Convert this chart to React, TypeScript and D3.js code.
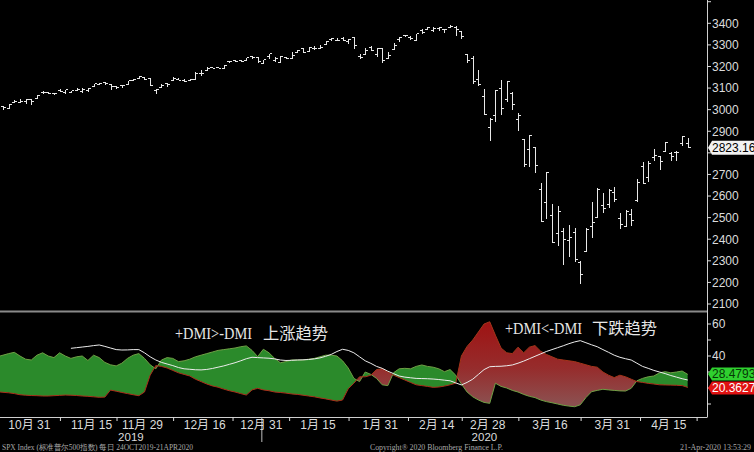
import React, { useEffect } from 'react';
import * as d3 from 'd3';

const W = 754;
const H = 452;

const dates = [
  '2019-10-24','2019-10-25','2019-10-28','2019-10-29','2019-10-30','2019-10-31',
  '2019-11-01','2019-11-04','2019-11-05','2019-11-06','2019-11-07','2019-11-08','2019-11-11','2019-11-12','2019-11-13','2019-11-14','2019-11-15','2019-11-18','2019-11-19','2019-11-20','2019-11-21','2019-11-22','2019-11-25','2019-11-26','2019-11-27','2019-11-29',
  '2019-12-02','2019-12-03','2019-12-04','2019-12-05','2019-12-06','2019-12-09','2019-12-10','2019-12-11','2019-12-12','2019-12-13','2019-12-16','2019-12-17','2019-12-18','2019-12-19','2019-12-20','2019-12-23','2019-12-24','2019-12-26','2019-12-27','2019-12-30','2019-12-31',
  '2020-01-02','2020-01-03','2020-01-06','2020-01-07','2020-01-08','2020-01-09','2020-01-10','2020-01-13','2020-01-14','2020-01-15','2020-01-16','2020-01-17','2020-01-21','2020-01-22','2020-01-23','2020-01-24','2020-01-27','2020-01-28','2020-01-29','2020-01-30','2020-01-31',
  '2020-02-03','2020-02-04','2020-02-05','2020-02-06','2020-02-07','2020-02-10','2020-02-11','2020-02-12','2020-02-13','2020-02-14','2020-02-18','2020-02-19','2020-02-20','2020-02-21','2020-02-24','2020-02-25','2020-02-26','2020-02-27','2020-02-28',
  '2020-03-02','2020-03-03','2020-03-04','2020-03-05','2020-03-06','2020-03-09','2020-03-10','2020-03-11','2020-03-12','2020-03-13','2020-03-16','2020-03-17','2020-03-18','2020-03-19','2020-03-20','2020-03-23','2020-03-24','2020-03-25','2020-03-26','2020-03-27','2020-03-30','2020-03-31',
  '2020-04-01','2020-04-02','2020-04-03','2020-04-06','2020-04-07','2020-04-08','2020-04-09','2020-04-13','2020-04-14','2020-04-15','2020-04-16','2020-04-17','2020-04-20',
];

const open = [
  3014.78,3003.32,3032.12,3035.39,3039.74,3046.90,
  3050.72,3078.96,3080.80,3075.10,3087.02,3081.25,3080.33,3089.28,3084.18,3090.75,3107.92,3117.91,3127.45,3114.66,3108.49,3111.41,3117.44,3134.85,3145.49,3147.18,
  3143.85,3087.41,3103.50,3119.21,3134.62,3141.86,3135.36,3135.75,3141.23,3166.65,3183.63,3195.40,3195.21,3192.32,3223.33,3226.05,3225.45,3227.20,3247.23,3240.09,3215.18,
  3244.67,3226.36,3217.55,3241.86,3238.59,3266.03,3281.81,3271.13,3285.35,3282.27,3302.97,3323.66,3321.03,3330.02,3315.77,3333.10,3247.16,3255.35,3289.46,3256.45,3282.33,
  3235.66,3280.61,3324.91,3344.92,3335.54,3318.28,3365.87,3370.50,3365.90,3378.08,3369.04,3380.39,3380.45,3360.50,3257.61,3238.94,3139.90,3062.54,2916.90,
  2974.28,3096.46,3045.75,3075.70,2954.20,2863.89,2813.48,2825.60,2630.86,2569.99,2508.59,2425.66,2436.50,2393.48,2431.94,2290.71,2344.44,2457.77,2501.29,2555.87,2558.98,2614.69,
  2498.08,2458.54,2514.92,2578.28,2738.65,2685.00,2776.99,2782.46,2805.10,2795.64,2799.34,2842.43,2845.62,
];

const high = [
  3016.07,3027.39,3044.08,3047.87,3050.10,3046.90,
  3066.95,3085.20,3083.95,3078.34,3097.77,3093.09,3088.33,3102.61,3098.06,3098.20,3120.46,3124.17,3127.64,3118.97,3110.11,3112.87,3133.83,3142.69,3154.26,3150.30,
  3144.31,3094.97,3119.38,3119.45,3150.60,3148.87,3142.12,3143.98,3176.28,3182.68,3197.71,3198.22,3198.48,3205.48,3225.65,3227.78,3226.43,3240.08,3247.93,3240.92,3231.72,
  3258.14,3246.15,3246.84,3244.91,3267.07,3275.58,3282.99,3288.13,3294.25,3298.66,3317.11,3329.88,3329.79,3337.77,3326.88,3333.18,3258.85,3285.78,3293.47,3285.91,3282.33,
  3268.44,3306.92,3337.58,3347.96,3341.42,3352.26,3375.63,3381.47,3385.09,3380.69,3375.01,3393.52,3389.15,3360.76,3259.81,3246.99,3182.51,3097.07,2959.72,
  3090.96,3136.72,3130.97,3083.04,2985.93,2863.89,2882.59,2825.60,2660.95,2711.33,2562.98,2553.93,2453.57,2466.97,2453.01,2300.73,2449.71,2571.42,2637.01,2615.91,2631.80,2641.39,
  2522.75,2533.22,2538.18,2676.85,2756.89,2760.75,2818.57,2782.46,2851.85,2801.88,2806.51,2879.22,2868.98,
];

const low = [
  3000.42,3001.94,3032.12,3034.81,3025.96,3023.19,
  3050.72,3074.87,3072.15,3065.89,3080.23,3073.58,3075.82,3084.73,3078.80,3083.26,3104.60,3112.06,3113.47,3091.41,3094.55,3099.26,3117.44,3131.00,3143.41,3139.34,
  3110.78,3070.33,3102.53,3103.76,3134.62,3135.46,3126.09,3133.21,3138.47,3156.51,3183.63,3191.03,3191.14,3192.32,3216.03,3222.30,3220.51,3227.20,3234.37,3216.57,3212.03,
  3235.53,3222.34,3214.64,3232.43,3236.67,3263.67,3260.86,3268.43,3277.19,3280.69,3302.82,3318.86,3316.61,3320.04,3301.87,3281.53,3234.50,3253.22,3271.89,3242.80,3214.68,
  3235.66,3280.61,3313.75,3334.39,3322.12,3317.77,3352.72,3369.72,3360.52,3366.15,3355.61,3378.83,3341.02,3328.45,3214.65,3118.77,3108.99,2977.39,2855.84,
  2945.19,2976.63,3034.38,2999.83,2901.54,2734.43,2734.00,2707.22,2478.86,2492.37,2380.94,2367.04,2280.52,2319.78,2295.56,2191.86,2344.44,2407.53,2500.72,2520.02,2545.28,2571.15,
  2447.49,2455.79,2459.96,2574.57,2657.67,2663.30,2762.36,2721.17,2805.10,2761.54,2764.32,2830.88,2820.43,
];

const close = [
  3010.29,3022.55,3039.42,3036.89,3046.77,3037.56,
  3066.91,3078.27,3074.62,3076.78,3085.18,3093.08,3087.01,3091.84,3094.04,3096.63,3120.46,3122.03,3120.18,3108.46,3103.54,3110.29,3133.64,3140.52,3153.63,3140.98,
  3113.87,3093.20,3112.76,3117.43,3145.91,3135.96,3132.52,3141.63,3168.57,3168.80,3191.45,3192.52,3191.14,3205.37,3221.22,3224.01,3223.38,3239.91,3240.02,3221.29,3230.78,
  3257.85,3234.85,3246.28,3237.18,3253.05,3274.70,3265.35,3288.13,3283.15,3289.29,3316.81,3329.62,3320.79,3321.75,3325.54,3295.47,3243.63,3276.24,3273.40,3283.66,3225.52,
  3248.92,3297.59,3334.69,3345.78,3327.71,3352.09,3357.75,3379.45,3373.94,3380.16,3370.29,3386.15,3373.23,3337.75,3225.89,3128.21,3116.39,2978.76,2954.22,
  3090.23,3003.37,3130.12,3023.94,2972.37,2746.56,2882.23,2741.38,2480.64,2711.02,2386.13,2529.19,2398.10,2409.39,2304.92,2237.40,2447.33,2475.56,2630.07,2541.47,2626.65,2584.59,
  2470.50,2526.90,2488.65,2663.68,2659.41,2749.98,2789.82,2761.63,2846.06,2783.36,2799.55,2874.56,2823.16,
];

const plusDI = [
  40,41.5,42.3,40,38,37.5,40.5,42,40,39,
  42,40,38.5,39.5,40,37.2,40.5,39,36,34.5,
  33.8,35.5,38.5,40.5,41.5,38.5,34.5,32,37.5,39,
  38.5,36.5,37,38,39.5,40.5,41.5,42.5,43.5,44,
  44.5,45,45.8,46.3,43.5,39.6,44.2,42,38.5,35.8,
  36.5,37.5,37.5,37.5,38,38.5,39.5,40.5,40.5,40,
  37,32.5,26,24,30,28.5,26,22,21.5,29.5,
  32,32.3,32,33.5,34.4,33.5,33,32,30.2,31.5,
  28,22.5,17.5,14.5,12.5,11,10.4,23,21,20,
  18.5,17.5,16,14.8,14,12.5,11.5,10.8,10,9.2,
  8.7,8.3,9.5,14,17.7,18.5,19.2,18.8,18.5,18.2,
  18.1,19.8,24.5,26,27,27.5,29.5,30.2,29.5,30,
  30.6,28.4793,
];

const minusDI = [
  17.5,17,16.5,15.8,15.5,15.3,15.2,15,15,15.2,
  15.4,15.6,15.5,15.3,15,14.8,14.5,14.2,14.3,18.7,
  18,17.2,16.5,15.8,15.2,17.5,28,34,33.5,32.5,
  31,29.5,28.5,27.5,25.5,24,22.5,21.3,20.5,19.3,
  18.3,17.5,16.5,15.6,18.8,19.8,18.8,18.3,17.5,17.2,
  16.8,16.3,16,15.5,15,14.5,13.8,13.2,12.5,11.8,
  12.5,19.5,23,27,27,28,31.5,32,30,28,
  26.5,25,23.5,22,21.5,21,20.4,20.6,21.2,22,
  23,40,46,50,55,60,61.4,53,45,42,
  41.5,45.5,42,45.5,46.5,43,41,39.5,38,37.5,
  37,36.5,35.5,34.5,33.5,33,30,28,26.5,28,
  27,25.5,24,23.5,22.9,22.5,22,21.9,21.8,21.7,
  21.5,20.3627,
];

const adx = [
  NaN,NaN,NaN,NaN,NaN,NaN,NaN,NaN,NaN,NaN,
  NaN,NaN,44.8,45.2,45.6,46,46.5,46.9,46,45,
  44,43.75,43.8,44,44,42,39.5,37.5,36,35,
  34,32.8,32,31.7,31.4,31.3,31.6,32.2,33,33.8,
  34.8,35.8,37,38.3,39.2,39,38.8,38.6,38.2,37.5,
  37.2,37.3,37.5,37.6,37.8,38.2,38.8,39.8,41,42.8,
  44.2,43.5,42,39.5,37,35.4,33.5,32.3,30.5,29,
  27.5,26.8,26.4,26,25.9,25.8,25.6,25.3,24.9,24.5,
  23.2,21.9,23.5,25.5,28.5,31.5,33.3,33.5,33.6,33.9,
  34.4,35.5,36.8,38.3,39.8,41.3,42.8,44,45.2,46.4,
  47.7,48.8,49.6,48.3,47,45.8,44,42.3,40.5,39.2,
  38.3,37.5,35.5,33.5,32.3,31,30,29,27.8,26.8,
  25.8,25,
];

const priceTicks = [3500,3400,3300,3200,3100,3000,2900,2800,2700,2600,2500,2400,2300,2200,2100];
const priceLabels = [3400,3300,3200,3100,3000,2900,2700,2600,2500,2400,2300,2200,2100];
const dmiTicks = [60,50,40,30,20,10];
const dmiLabels = [60,40];

const xLabelDates = ['2019-10-31','2019-11-15','2019-11-29','2019-12-16','2019-12-31','2020-01-15','2020-01-31','2020-02-14','2020-02-28','2020-03-16','2020-03-31','2020-04-15'];
const xLabelTexts = ['10月 31','11月 15','11月 29','12月 16','12月 31','1月 15','1月 31','2月 14','2月 28','3月 16','3月 31','4月 15'];
const years = ['2019','2020'];

const lastPrice = '2823.16';
const lastPlus = '28.4793';
const lastMinus = '20.3627';

const upText = ['+DMI>-DMI', '上涨趋势'];
const downText = ['+DMI<-DMI', '下跌趋势'];
const footerLeft = 'SPX Index (标准普尔500指数)  每日 24OCT2019-21APR2020';
const footerMid = 'Copyright® 2020 Bloomberg Finance L.P.';
const footerRight = '21-Apr-2020 13:53:29';

export default function App() {
  useEffect(() => {
    document.body.style.margin = '0';
    document.body.style.background = '#000';
  }, []);

  const axisX = 707;
  const x = d3.scalePoint<string>().domain(dates).range([3, 687.8]);
  const xi = (i: number) => x(dates[i]) as number;
  const yP = d3.scaleLinear().domain([2100, 3400]).range([304, 23.3]);
  const yD = d3.scaleLinear().domain([10, 60]).range([404, 324]);
  const dmiTop = 313;
  const dmiBottom = 417;
  const idx = d3.range(dates.length);

  // first point extended to the left edge of the panel
  const fx = (i: number) => (i === 0 ? 0 : xi(i));

  const fillArea = d3.area<number>()
    .x(i => fx(i))
    .y0(i => yD(minusDI[i]))
    .y1(i => yD(plusDI[i]));
  const clipAbove = d3.area<number>()
    .x(i => fx(i))
    .y0(() => dmiTop)
    .y1(i => yD(minusDI[i]));
  const clipBelow = d3.area<number>()
    .x(i => fx(i))
    .y0(i => yD(minusDI[i]))
    .y1(() => dmiBottom);
  const lineOf = (arr: number[]) => d3.line<number>()
    .defined(i => !isNaN(arr[i]))
    .x(i => fx(i))
    .y(i => yD(arr[i]))(idx) as string;

  const labelX = xLabelDates.map(d => (x(d) as number) - 2);
  const tickXs: number[] = [];
  tickXs.push(labelX[0] - (labelX[1] - labelX[0]) / 2);
  for (let k = 0; k < labelX.length - 1; k++) tickXs.push((labelX[k] + labelX[k + 1]) / 2);
  tickXs.push(labelX[labelX.length - 1] + (labelX[labelX.length - 1] - labelX[labelX.length - 2]) / 2);

  const yearBoundary = xi(dates.indexOf('2019-12-31')) - 1.5;
  const yearCenters = [yearBoundary / 2, (yearBoundary + axisX) / 2];

  const sans = '"Liberation Sans", Arial, "Noto Sans CJK SC", sans-serif';
  const serif = '"Liberation Serif", "DejaVu Serif", serif';
  const cjk = '"Noto Sans CJK SC", sans-serif';
  const axisColor = '#dcdcdc';
  const barColor = '#e8e8e8';
  const tk = 2.4;

  const tag = (yc: number, h: number) => {
    const x0 = axisX + 1, x1 = axisX + 5, x2 = W;
    return `M${x0},${yc} L${x1},${yc - h / 2} L${x2},${yc - h / 2} L${x2},${yc + h / 2} L${x1},${yc + h / 2} Z`;
  };

  return (
    <svg width={W} height={H} style={{ position: 'fixed', left: 0, top: 0, background: '#000', display: 'block' }}>
      <defs>
        <clipPath id="abv"><path d={clipAbove(idx) as string} /></clipPath>
        <clipPath id="blw"><path d={clipBelow(idx) as string} /></clipPath>
        <linearGradient id="redg" gradientUnits="userSpaceOnUse" x1="0" y1={yD(60)} x2="0" y2={yD(10)}>
          <stop offset="0" stopColor="#9e1414" />
          <stop offset="0.55" stopColor="#962c2c" />
          <stop offset="1" stopColor="#8c5050" />
        </linearGradient>
      </defs>
      <rect x={0} y={0} width={W} height={H} fill="#000" />

      {/* price bars */}
      <g stroke={barColor} strokeWidth={1} shapeRendering="crispEdges">
        {idx.map(i => {
          const cx = Math.round(xi(i)) + 0.5;
          return (
            <g key={i}>
              <line x1={cx} x2={cx} y1={yP(high[i])} y2={yP(low[i])} />
              <line x1={cx - tk} x2={cx} y1={yP(open[i])} y2={yP(open[i])} />
              <line x1={cx} x2={cx + tk} y1={yP(close[i])} y2={yP(close[i])} />
            </g>
          );
        })}
      </g>

      {/* separator */}
      <line x1={0} x2={axisX} y1={311.5} y2={311.5} stroke="#8a8a8a" strokeWidth={2} />

      {/* DMI fills */}
      <path d={fillArea(idx) as string} fill="#2b8a2b" clipPath="url(#abv)" />
      <path d={fillArea(idx) as string} fill="url(#redg)" clipPath="url(#blw)" />
      <path d={lineOf(plusDI)} fill="none" stroke="#6f9f45" strokeWidth={1} />
      <path d={lineOf(minusDI)} fill="none" stroke="#a8321a" strokeWidth={1} />
      <path d={lineOf(adx)} fill="none" stroke="#ececec" strokeWidth={1} />

      {/* annotations */}
      <text x={175} y={339} fill="#e6e6e6" fontFamily={serif} fontSize={17} textLength={77} lengthAdjust="spacingAndGlyphs">{upText[0]}</text>
      <text x={263} y={339} fill="#e6e6e6" fontFamily={cjk} fontSize={16} textLength={65} lengthAdjust="spacingAndGlyphs">{upText[1]}</text>
      <text x={505} y={334} fill="#e6e6e6" fontFamily={serif} fontSize={17} textLength={77} lengthAdjust="spacingAndGlyphs">{downText[0]}</text>
      <text x={592} y={334} fill="#e6e6e6" fontFamily={cjk} fontSize={16} textLength={65} lengthAdjust="spacingAndGlyphs">{downText[1]}</text>

      {/* right axis */}
      <line x1={axisX + 0.5} x2={axisX + 0.5} y1={0} y2={dmiBottom} stroke="#cfcfcf" strokeWidth={1} />
      <line x1={0} x2={axisX + 0.5} y1={dmiBottom + 0.5} y2={dmiBottom + 0.5} stroke="#cfcfcf" strokeWidth={1} />
      {priceTicks.map(v => (
        <line key={'pt' + v} x1={axisX} x2={axisX + 4} y1={yP(v)} y2={yP(v)} stroke={axisColor} strokeWidth={1} />
      ))}
      {priceLabels.map(v => (
        <text key={'pl' + v} x={axisX + 5} y={yP(v)} dy="0.36em" fill={axisColor} fontFamily={sans} fontSize={12}>{v}</text>
      ))}
      {dmiTicks.map(v => (
        <line key={'dt' + v} x1={axisX} x2={axisX + 4} y1={yD(v)} y2={yD(v)} stroke={axisColor} strokeWidth={1} />
      ))}
      {dmiLabels.map(v => (
        <text key={'dl' + v} x={axisX + 5} y={yD(v)} dy="0.36em" fill={axisColor} fontFamily={sans} fontSize={12}>{v}</text>
      ))}

      {/* last value tags */}
      <path d={tag(yP(+lastPrice), 14)} fill="#f2f2f2" />
      <text x={axisX + 5} y={yP(+lastPrice)} dy="0.36em" fill="#000" fontFamily={sans} fontSize={12}>{lastPrice}</text>
      <path d={tag(yD(+lastPlus) - 0.5, 13)} fill="#2fd02f" />
      <text x={axisX + 5} y={yD(+lastPlus) - 0.5} dy="0.36em" fill="#063806" fontFamily={sans} fontSize={12}>{lastPlus}</text>
      <path d={tag(yD(+lastMinus) + 0.5, 13)} fill="#e01212" />
      <text x={axisX + 5} y={yD(+lastMinus) + 0.5} dy="0.36em" fill="#ffffff" fontFamily={sans} fontSize={12}>{lastMinus}</text>

      {/* x axis */}
      {tickXs.map((t, k) => (
        <line key={'xt' + k} x1={t} x2={t} y1={dmiBottom} y2={dmiBottom + 4} stroke={axisColor} strokeWidth={1} />
      ))}
      <line x1={yearBoundary} x2={yearBoundary} y1={dmiBottom} y2={442} stroke="#bdbdbd" strokeWidth={1} />
      {xLabelTexts.map((t, k) => (
        <text key={'xl' + k} x={labelX[k]} y={428.5} textAnchor="middle" fill={axisColor} fontFamily={sans} fontSize={12}>{t}</text>
      ))}
      {years.map((t, k) => (
        <text key={'yr' + k} x={yearCenters[k]} y={441} textAnchor="middle" fill={axisColor} fontFamily={sans} fontSize={11.5}>{t}</text>
      ))}

      {/* footer */}
      <text x={2} y={449.5} fill="#a8a8a8" fontFamily={serif} fontSize={8} textLength={191} lengthAdjust="spacingAndGlyphs">{footerLeft}</text>
      <text x={370} y={449.5} fill="#a8a8a8" fontFamily={serif} fontSize={8} textLength={133} lengthAdjust="spacingAndGlyphs">{footerMid}</text>
      <text x={680} y={449.5} fill="#a8a8a8" fontFamily={serif} fontSize={8} textLength={71} lengthAdjust="spacingAndGlyphs">{footerRight}</text>
    </svg>
  );
}
